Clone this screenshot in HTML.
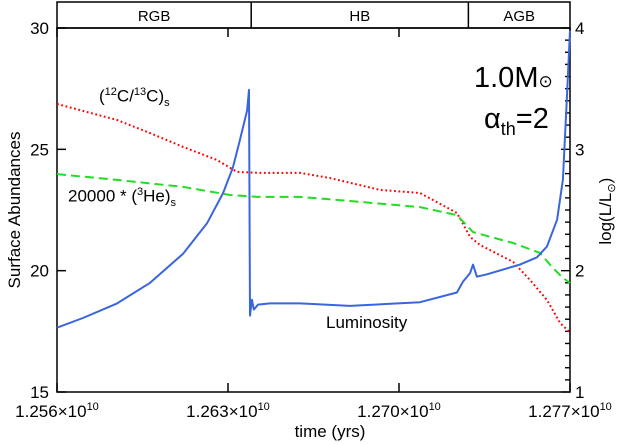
<!DOCTYPE html>
<html><head><meta charset="utf-8">
<style>
body{margin:0;background:#fff;}
svg{display:block;font-family:"Liberation Sans","DejaVu Sans",sans-serif;}
</style></head>
<body>
<svg id="chart" width="619" height="445" viewBox="0 0 619 445">
<g id="frame"></g>
<g id="series"></g>
<g id="labels"></g>
</svg>
<script>
// Time in Myr (x1e6 yrs)
const lumTime = [12560,12570.6,12584.6,12598.1,12611.6,12621.4,12628.0,12632.0,12634.9,12637.8,12638.6,12639.0,12639.8,12640.6,12642.3,12647.2,12659.5,12679.9,12708.6,12723.7,12726.2,12729.1,12730.3,12731.9,12736.0,12749.5,12756.5,12760.6,12764.7,12767.1,12768.7,12770];
const lumValues = [1.53,1.61,1.73,1.90,2.14,2.39,2.64,2.85,3.08,3.32,3.49,1.63,1.76,1.68,1.72,1.73,1.73,1.71,1.74,1.82,1.91,1.98,2.05,1.95,1.97,2.05,2.11,2.20,2.42,2.75,3.41,3.98];
const cTime = [12560,12584.6,12598.1,12611.6,12625.5,12633.7,12643.1,12659.5,12671.7,12692.2,12708.6,12723.7,12729.1,12733.1,12746.7,12753.6,12760.6,12765.9,12768.8,12770];
const cValues = [26.87,26.21,25.67,25.10,24.56,24.07,24.03,24.03,23.82,23.33,23.20,22.38,21.39,21.06,20.36,19.62,18.79,17.85,17.56,17.47];
const heTime = [12560,12584.6,12611.6,12630.8,12641.9,12659.5,12679.9,12708.6,12723.7,12730.3,12746.7,12757.7,12763.0,12767.1,12770];
const heValues = [23.98,23.74,23.45,23.12,23.04,23.04,22.87,22.62,22.29,21.59,21.14,20.73,20.11,19.70,19.49];
const xTicks = [12560,12630,12700,12770];
const xTickLabels = ["1.256","1.263","1.270","1.277"];
const leftTicks = [15,20,25,30];
const rightTicks = [1,2,3,4];
const phases = [["RGB",12560,12639.5],["HB",12639.5,12728.4],["AGB",12728.4,12770]];

const L=57,R=570,T=28,B=392;
const xs=t=>L+(t-12560)/210*(R-L);
const yl=v=>B-(v-15)/15*(B-T);
const yr=v=>B-(v-1)/3*(B-T);
const NS="http://www.w3.org/2000/svg";
function mk(tag,attrs,parent){const e=document.createElementNS(NS,tag);for(const k in attrs)e.setAttribute(k,attrs[k]);parent.appendChild(e);return e;}
const frame=document.getElementById('frame'),series=document.getElementById('series'),labels=document.getElementById('labels');

let band=mk('rect',{x:L,y:2,width:R-L,height:T-2,fill:'none',stroke:'#000','stroke-width':1.5},frame);


phases.forEach((p,i)=>{
  if(i>0){let d=mk('line',{x1:xs(p[1]),x2:xs(p[1]),y1:2,y2:T,stroke:'#000','stroke-width':1.5},frame);
    
    }
  let tx=mk('text',{x:(xs(p[1])+xs(p[2]))/2,y:21,'text-anchor':'middle','font-size':15},labels);
  tx.textContent=p[0];
  
  
});
let box=mk('rect',{x:L,y:T,width:R-L,height:B-T,fill:'none',stroke:'#000','stroke-width':1.5},frame);



xTicks.forEach((t,i)=>{
  mk('line',{x1:xs(t),x2:xs(t),y1:B,y2:B-9,stroke:'#000','stroke-width':1.5},frame);
  mk('line',{x1:xs(t),x2:xs(t),y1:T,y2:T+9,stroke:'#000','stroke-width':1.5},frame);
  let tx=mk('text',{x:xs(t),y:417,'text-anchor':'middle','font-size':17},labels);
  tx.innerHTML=xTickLabels[i]+'×10<tspan dy="-7" font-size="11">10</tspan>';
  
  
});
leftTicks.forEach(v=>{
  mk('line',{x1:L,x2:L+9,y1:yl(v),y2:yl(v),stroke:'#000','stroke-width':1.5},frame);
  let tx=mk('text',{x:L-8,y:yl(v)+6,'text-anchor':'end','font-size':17},labels);
  tx.textContent=v;
  
  
});
for(let v=1;v<=4.001;v+=0.1){
  const major=Math.abs(v-Math.round(v))<0.01;
  mk('line',{x1:R,x2:R-(major?9:5),y1:yr(v),y2:yr(v),stroke:'#000','stroke-width':1.4},frame);
}
rightTicks.forEach(v=>{
  let tx=mk('text',{x:R+5,y:yr(v)+6,'font-size':17},labels);
  tx.textContent=v;
  
  
});

function path(tArr,vArr,yf){return tArr.map((t,i)=>(i?'L':'M')+xs(t).toFixed(1)+','+yf(vArr[i]).toFixed(1)).join(' ');}
let pc=mk('path',{d:path(cTime,cValues,yl),fill:'none',stroke:'#ff0000','stroke-width':2,'stroke-dasharray':'1.8 2.6'},series);


let ph=mk('path',{d:path(heTime,heValues,yl),fill:'none',stroke:'#22dd22','stroke-width':2,'stroke-dasharray':'9 5'},series);


let pl=mk('path',{d:path(lumTime,lumValues,yr),fill:'none',stroke:'#3a66dd','stroke-width':2,'stroke-linejoin':'round'},series);


</script>
<div style="position:absolute;left:0;top:0;width:619px;height:445px;pointer-events:none;font-family:'Liberation Sans','DejaVu Sans',sans-serif;">
 <div style="position:absolute;left:99px;top:86px;font-size:17px;">(<sup style="font-size:11px">12</sup>C/<sup style="font-size:11px">13</sup>C)<sub style="font-size:11px">s</sub></div>
 <div style="position:absolute;left:68px;top:186px;font-size:17px;">20000 * (<sup style="font-size:11px">3</sup>He)<sub style="font-size:11px">s</sub></div>
 <div style="position:absolute;left:326px;top:313px;font-size:17px;">Luminosity</div>
 <div style="position:absolute;left:474px;top:62px;font-size:29px;">1.0M<span style="font-size:17px">⊙</span></div>
 <div style="position:absolute;left:484px;top:103px;font-size:29px;">α<sub style="font-size:18px">th</sub>=2</div>
 <div style="position:absolute;left:270px;top:422px;width:120px;text-align:center;font-size:17px;">time (yrs)</div>
 <div style="position:absolute;left:-80px;top:200px;width:190px;text-align:center;font-size:17px;transform:rotate(-90deg);">Surface Abundances</div>
 <div style="position:absolute;left:555px;top:200px;width:104px;text-align:center;font-size:17px;transform:rotate(-90deg);">log(L/L<sub style="font-size:11px">⊙</sub>)</div>
</div>
</body></html>
